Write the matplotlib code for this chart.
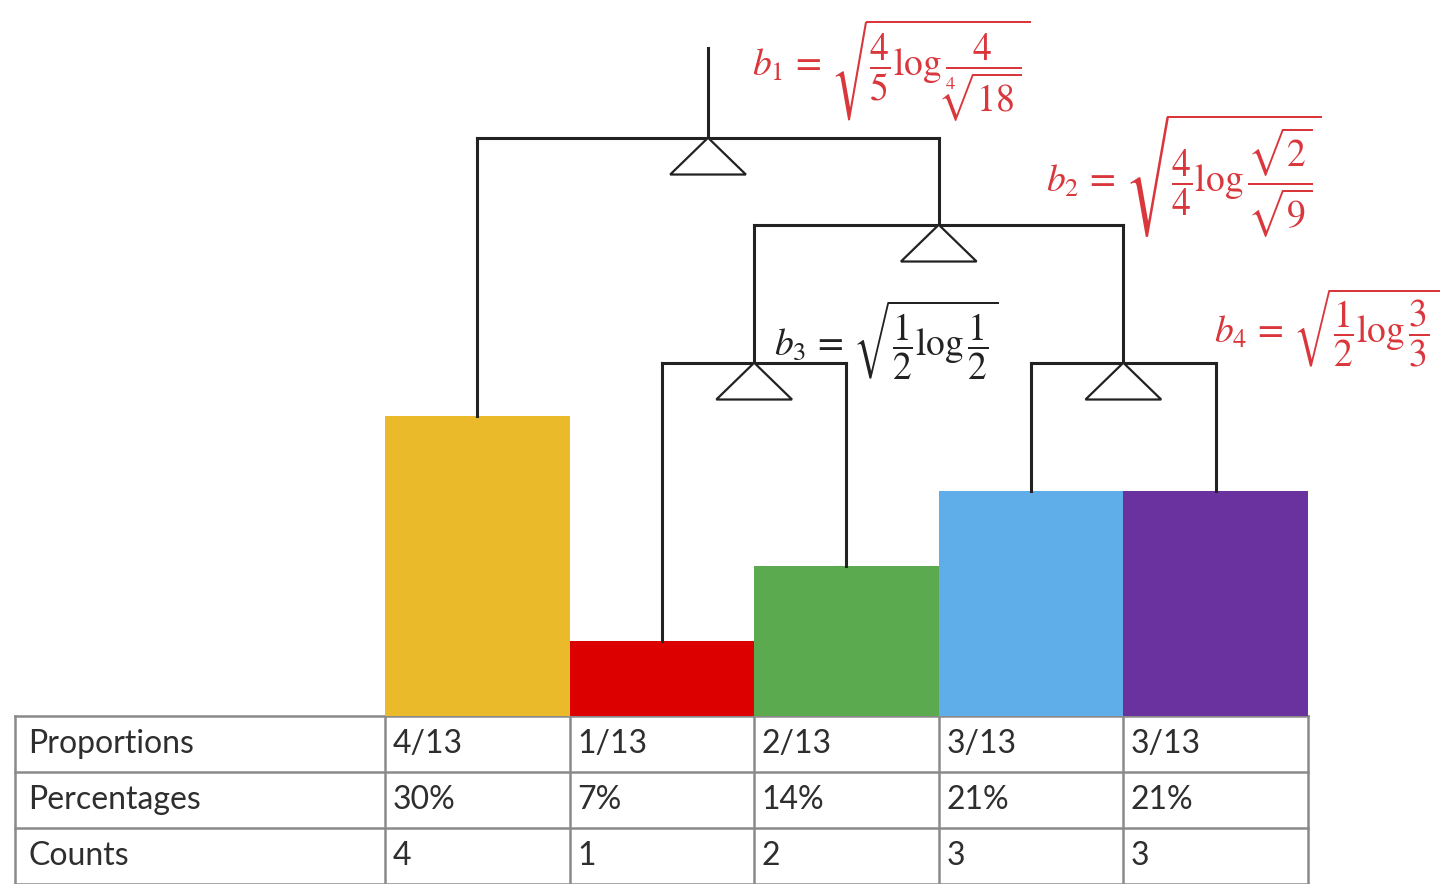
import matplotlib
matplotlib.use('Agg')
import matplotlib.pyplot as plt
from matplotlib.patches import Polygon

plt.rcParams['mathtext.fontset'] = 'stix'

# data
proportions = ['4/13', '1/13', '2/13', '3/13', '3/13']
percentages = ['30%', '7%', '14%', '21%', '21%']
counts = [4, 1, 2, 3, 3]
bar_colors = ['#EBBA2A', '#DC0000', '#5BAA50', '#5FAEEA', '#6A329F']
row_labels = ['Proportions', 'Percentages', 'Counts']

# dendrogram merges: (left child, right child, height); leaves are 0..4
merges = [(1, 2, 4.71), (3, 4, 4.71), (5, 6, 6.55), (0, 7, 7.71)]
root_top = 8.91

formulas = [
    (r'$b_1\,=\,\sqrt{\dfrac{4}{5}\log\dfrac{4}{\sqrt[4]{18}}}$', '#D9373C'),
    (r'$b_2\,=\,\sqrt{\dfrac{4}{4}\log\dfrac{\sqrt{2}}{\sqrt{9}}}$', '#D9373C'),
    (r'$b_3\,=\,\sqrt{\dfrac{1}{2}\log\dfrac{1}{2}}$', '#222222'),
    (r'$b_4\,=\,\sqrt{\dfrac{1}{2}\log\dfrac{3}{3}}$', '#D9373C'),
]
formula_pos = [(1.49, 8.6), (3.08, 7.2), (1.61, 5.02), (3.99, 5.18)]

fig = plt.figure(figsize=(14.53, 8.84), dpi=100)
ax = fig.add_axes([0, 0, 1, 1])
ax.set_xlim(-2.586, 5.286)
ax.set_ylim(-2.24, 9.547)
ax.axis('off')

x = list(range(len(counts)))
ax.bar(x, counts, width=1.0, color=bar_colors, zorder=2)

# dendrogram
lw = 2.2
lc = '#222222'
node_x = list(x)
node_h = list(counts)
tri_h, tri_w = 0.49, 0.205
for a, b, h in merges:
    for c in (a, b):
        ax.plot([node_x[c], node_x[c]], [node_h[c], h], color=lc, lw=lw, zorder=3)
    ax.plot([node_x[a], node_x[b]], [h, h], color=lc, lw=lw, zorder=3)
    mx = (node_x[a] + node_x[b]) / 2
    ax.add_patch(Polygon([[mx, h], [mx - tri_w, h - tri_h], [mx + tri_w, h - tri_h]],
                         closed=True, facecolor='white', edgecolor=lc, lw=1.6, zorder=4))
    node_x.append(mx)
    node_h.append(h)
ax.plot([node_x[-1], node_x[-1]], [node_h[-1], root_top], color=lc, lw=lw, zorder=3)

for (txt, col), (fx, fy) in zip(formulas, formula_pos):
    ax.text(fx, fy, txt, color=col, fontsize=27, ha='left', va='center', zorder=5)

# table
rh = 0.747
left = -2.504
right = len(counts) - 0.5
tc = '#8A8A8A'
nrows = len(row_labels)
for r in range(nrows + 1):
    ax.plot([left, right], [-r * rh, -r * rh], color=tc, lw=1.8, zorder=1)
for cx in [left] + [i - 0.5 for i in range(len(counts) + 1)]:
    ax.plot([cx, cx], [0, -nrows * rh], color=tc, lw=1.8, zorder=1)

rows = [proportions, percentages, [str(c) for c in counts]]
for r, (lab, vals) in enumerate(zip(row_labels, rows)):
    yc = -(r + 0.5) * rh
    ax.text(left + 0.07, yc, lab, fontsize=23, family='Lato', color='#2E2E2E',
            ha='left', va='center')
    for i, v in enumerate(vals):
        ax.text(i - 0.5 + 0.04, yc, v, fontsize=23, family='Lato', color='#2E2E2E',
                ha='left', va='center')

fig.savefig('out.png', dpi=100, facecolor='white')
